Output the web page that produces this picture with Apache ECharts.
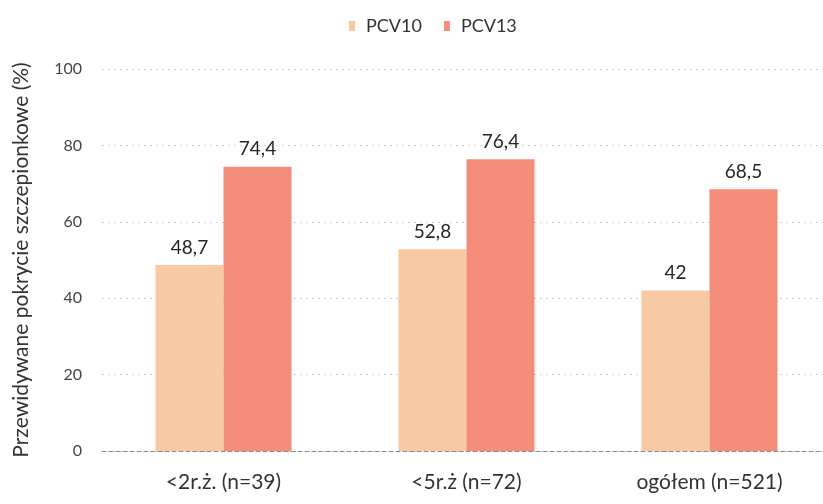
<!DOCTYPE html>
<html>
<head>
<meta charset="utf-8">
<script src="https://cdn.jsdelivr.net/npm/echarts@6/dist/echarts.min.js"></script>
<style>
  html, body { margin: 0; padding: 0; background: #fff; }
  #chart { width: 823px; height: 504px; }
</style>
</head>
<body>
<div id="chart"></div>
<script>
// Predicted vaccine coverage by age group
const categories = ['<2r.ż. (n=39)', '<5r.ż (n=72)', 'ogółem (n=521)'];
const seriesNames = ['PCV10', 'PCV13'];
const pcv10 = [48.7, 52.8, 42];
const pcv13 = [74.4, 76.4, 68.5];
const yTicks = [0, 20, 40, 60, 80, 100];

const FONT = 'Lato, "Open Sans", sans-serif';
const TEXT = '#333333';

const fmt = v => String(v).replace('.', ',');

const chart = echarts.init(document.getElementById('chart'), null, { renderer: 'canvas' });

function barSeries(name, data, color) {
  return {
    name: name,
    type: 'bar',
    data: data,
    barGap: '0%',
    barCategoryGap: '44%',
    itemStyle: { color: color },
    label: {
      show: true,
      position: 'top',
      distance: 8,
      fontFamily: FONT,
      fontSize: 19,
      color: '#262626',
      formatter: p => fmt(p.value)
    }
  };
}

chart.setOption({
  animation: false,
  backgroundColor: '#ffffff',
  textStyle: { fontFamily: FONT },
  legend: {
    data: seriesNames,
    top: 12,
    left: 344,
    icon: 'rect',
    itemWidth: 6,
    itemHeight: 10,
    itemGap: 22,
    textStyle: { fontFamily: FONT, fontSize: 18, color: TEXT, padding: [0, 0, 0, 6] }
  },
  grid: { left: 102, width: 729, top: 69, bottom: 53, outerBoundsMode: 'none', containLabel: false },
  xAxis: {
    type: 'category',
    data: categories,
    axisTick: { show: false },
    axisLine: { show: true, lineStyle: { color: '#8a8a8a', type: [4, 3], width: 1 } },
    axisLabel: { fontFamily: FONT, fontSize: 21, color: TEXT, margin: 21 }
  },
  yAxis: {
    type: 'value',
    min: yTicks[0],
    max: yTicks[yTicks.length - 1],
    interval: yTicks[1] - yTicks[0],
    name: 'Przewidywane pokrycie szczepionkowe (%)',
    nameLocation: 'middle',
    nameGap: 70,
    nameTextStyle: { fontFamily: FONT, fontSize: 21, color: TEXT },
    axisLine: { show: false },
    axisTick: { show: false },
    axisLabel: { fontFamily: FONT, fontSize: 16, color: '#444444', margin: 20 },
    splitLine: { show: true, lineStyle: { color: '#cfcfcf', type: [2, 4], width: 1 } }
  },
  series: [
    barSeries(seriesNames[0], pcv10, '#f8caa3'),
    barSeries(seriesNames[1], pcv13, '#f48d79')
  ]
});
</script>
</body>
</html>
